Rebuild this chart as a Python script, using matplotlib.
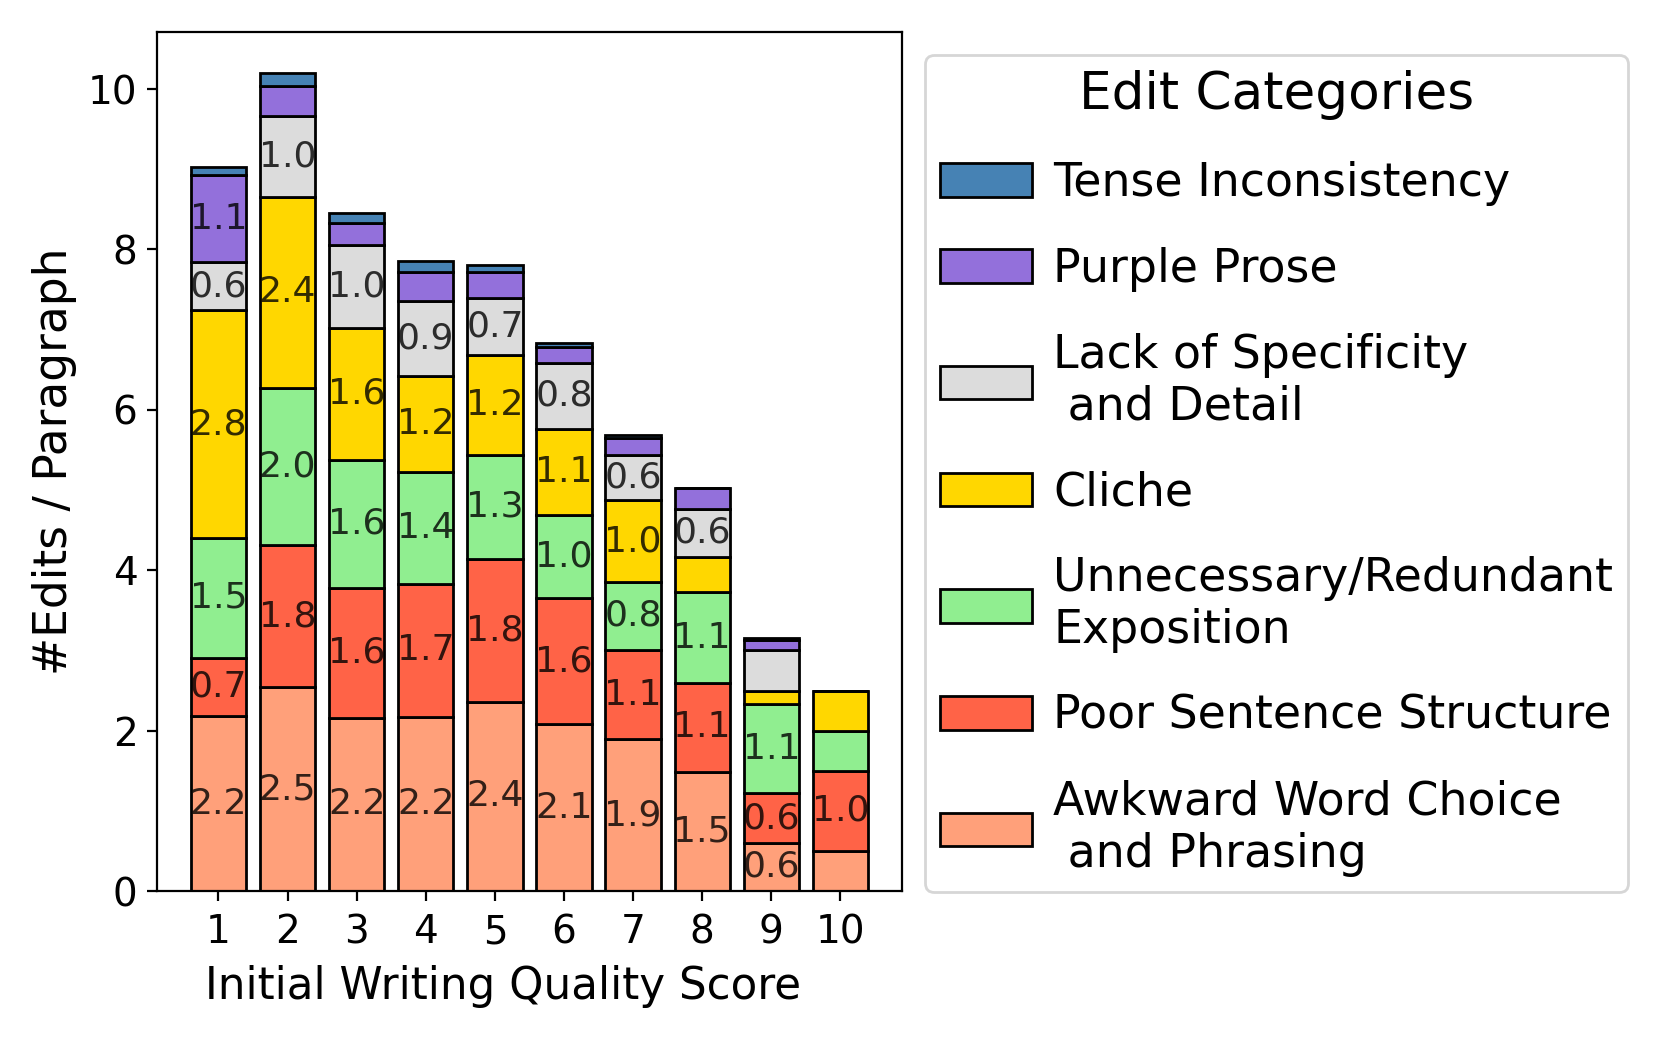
import matplotlib
matplotlib.use("Agg")
import matplotlib.pyplot as plt
import numpy as np

scores = [1, 2, 3, 4, 5, 6, 7, 8, 9, 10]
categories = [
    "Awkward Word Choice\n and Phrasing",
    "Poor Sentence Structure",
    "Unnecessary/Redundant\nExposition",
    "Cliche",
    "Lack of Specificity\n and Detail",
    "Purple Prose",
    "Tense Inconsistency",
]
awkward = [2.18, 2.54, 2.16, 2.17, 2.36, 2.08, 1.89, 1.49, 0.60, 0.50]
poor = [0.73, 1.77, 1.62, 1.66, 1.78, 1.57, 1.12, 1.10, 0.62, 1.00]
unnecessary = [1.49, 1.96, 1.60, 1.40, 1.30, 1.04, 0.84, 1.14, 1.11, 0.49]
cliche = [2.84, 2.39, 1.64, 1.19, 1.24, 1.07, 1.02, 0.44, 0.16, 0.51]
lack = [0.60, 1.01, 1.03, 0.94, 0.71, 0.83, 0.57, 0.60, 0.51, 0.0]
purple = [1.09, 0.37, 0.28, 0.36, 0.33, 0.20, 0.21, 0.25, 0.13, 0.0]
tense = [0.10, 0.16, 0.13, 0.14, 0.09, 0.04, 0.04, 0.0, 0.03, 0.0]

series = [awkward, poor, unnecessary, cliche, lack, purple, tense]
colors = ["#FFA07A", "#FF6347", "#90EE90", "#FFD700", "#DCDCDC", "#9370DB", "#4682B4"]

fig = plt.figure(figsize=(1661 / 200, 1038 / 200), dpi=200)
ax = fig.add_axes([0.0945, 0.1416, 0.4485, 0.8274])

bottom = np.zeros(len(scores))
handles = []
for name, vals, col in zip(categories, series, colors):
    vals = np.array(vals)
    bars = ax.bar(scores, vals, bottom=bottom, width=0.8, color=col,
                  edgecolor="black", linewidth=1.0, label=name)
    handles.append(bars)
    for x, v, b in zip(scores, vals, bottom):
        if v >= 0.55:
            ax.text(x, b + v / 2, f"{v:.1f}", ha="center", va="center",
                    fontsize=13, color="black", alpha=0.8)
    bottom += vals

ax.set_xticks(scores)
ax.set_xticklabels([str(s) for s in scores])
ax.tick_params(axis="both", labelsize=14)
ax.tick_params(axis="x", pad=4.5)
ax.set_xlabel("Initial Writing Quality Score", fontsize=15.7)
ax.xaxis.set_label_coords(0.465, -0.1106)
ax.xaxis.label.set_va("center")
ax.set_ylabel("#Edits / Paragraph", fontsize=16.4)

leg = fig.legend(handles[::-1], categories[::-1], loc="upper left",
                 bbox_to_anchor=(0.557, 0.947), borderaxespad=0,
                 title="Edit Categories", fontsize=16.5, title_fontsize=18.6,
                 handlelength=2.0, handleheight=0.75, handletextpad=0.46,
                 borderpad=0.33, labelspacing=0.89)

fig.savefig("out.png", dpi=200)
